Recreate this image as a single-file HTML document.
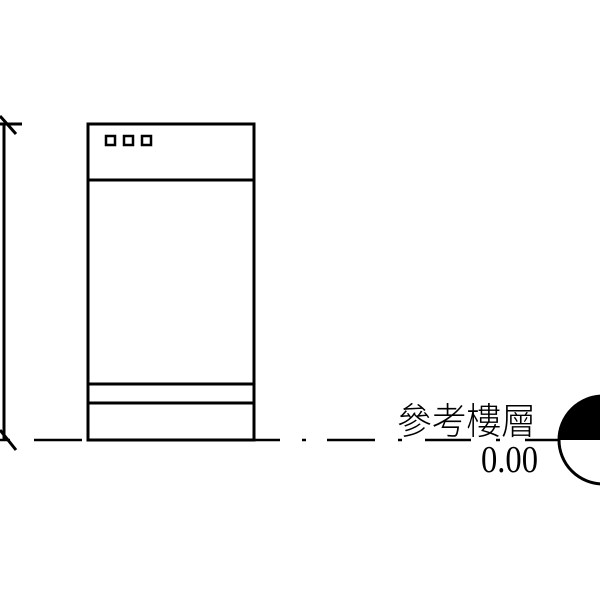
<!DOCTYPE html>
<html><head><meta charset="utf-8"><style>
html,body{margin:0;padding:0;background:#fff;width:600px;height:600px;overflow:hidden}
</style></head><body>
<svg width="600" height="600" viewBox="0 0 600 600" xmlns="http://www.w3.org/2000/svg">
<g stroke="#000" stroke-width="3" fill="none">
<line x1="4" y1="124" x2="4" y2="440"/>
<line x1="0" y1="124" x2="22" y2="124"/>
<line x1="0" y1="116" x2="16" y2="134"/>
<line x1="0" y1="430" x2="16" y2="450"/>
<rect x="88" y="124" width="166" height="316"/>
<line x1="88" y1="180" x2="254" y2="180"/>
<line x1="88" y1="384" x2="254" y2="384"/>
<line x1="88" y1="403" x2="254" y2="403"/>
<rect x="106" y="136" width="9" height="9" stroke-width="2.5"/>
<rect x="124" y="136" width="9" height="9" stroke-width="2.5"/>
<rect x="142" y="136" width="9" height="9" stroke-width="2.5"/>
<g stroke-width="2.5">
<line x1="0" y1="440" x2="10" y2="440"/>
<line x1="34" y1="440" x2="82" y2="440"/>
<line x1="254" y1="440" x2="280" y2="440"/>
<line x1="302" y1="440" x2="306" y2="440"/>
<line x1="327" y1="440" x2="375" y2="440"/>
<line x1="398" y1="440" x2="402" y2="440"/>
<line x1="425" y1="440" x2="471" y2="440"/>
<line x1="496" y1="440" x2="500" y2="440"/>
<line x1="525" y1="440" x2="560" y2="440"/>
</g>
<circle cx="603" cy="440" r="44"/>
</g>
<path d="M559 440 A44 44 0 0 1 603 396 L603 440 Z" fill="#000"/>
<path d="M603 396 A44 44 0 0 1 647 440 L603 440 Z" fill="#000"/>
<text x="397" y="434" font-family="'Liberation Sans','Noto Sans CJK TC',sans-serif" font-size="37" fill="#000" textLength="139" lengthAdjust="spacingAndGlyphs" font-weight="300">參考樓層</text>
<text x="481" y="472" font-family="'Liberation Serif',serif" font-size="38" fill="#000" textLength="57" lengthAdjust="spacingAndGlyphs">0.00</text>
</svg>
</body></html>
